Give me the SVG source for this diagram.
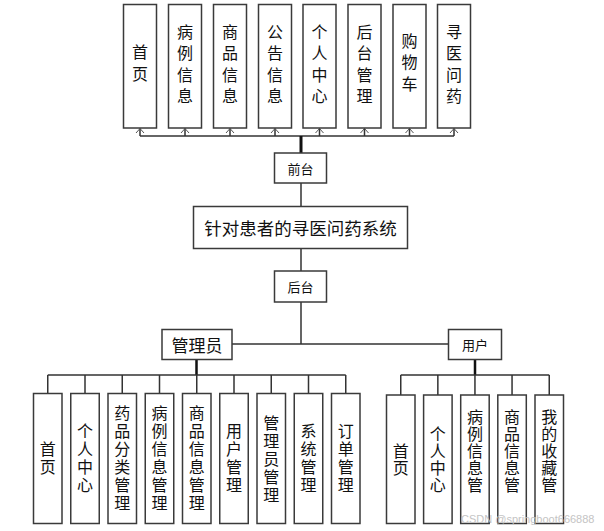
<svg xmlns="http://www.w3.org/2000/svg" width="604" height="531" viewBox="0 0 604 531">
<style>
.box{fill:#fff;stroke:#3a3a3a;stroke-width:1.5}
.ln{fill:none;stroke:#333;stroke-width:1.5}
.thick{fill:none;stroke:#111;stroke-width:3}
.ar{fill:none;stroke:#555;stroke-width:1}
text{font-family:"Noto Sans CJK SC","Noto Sans",sans-serif;fill:#111;text-anchor:middle;dominant-baseline:central}
.v{writing-mode:vertical-rl;text-orientation:upright;font-size:16px}
.vt{letter-spacing:5.5px}
.vb{letter-spacing:2px}
.vr{letter-spacing:1px}
.t13{font-size:13px}
.t18{font-size:17.5px}
.wm{font-family:"Liberation Sans",sans-serif;font-size:11px;fill:#c4c4c4;text-anchor:start;dominant-baseline:auto}
</style>
<rect width="604" height="531" fill="#fff"/>
<g id="connectors">
<path class="ln" d="M140,136H454"/>
<path class="ln" d="M140,136V128.5M185,136V128.5M230,136V128.5M275,136V128.5M319.5,136V128.5M364.5,136V128.5M409.5,136V128.5M454,136V128.5"/>
<path class="ar" d="M136,133L140,128.5L144,133M181,133L185,128.5L189,133M226,133L230,128.5L234,133M271,133L275,128.5L279,133M315.5,133L319.5,128.5L323.5,133M360.5,133L364.5,128.5L368.5,133M405.5,133L409.5,128.5L413.5,133M450,133L454,128.5L458,133"/>
<path class="thick" d="M301,136V153"/>
<path class="ln" d="M301,183V206.5M301,248.5V271M301,302V344M232,344H448.5"/>
<path class="thick" d="M196.5,360V375M475,359.5V375" style="stroke-width:2.5"/>
<path class="ln" d="M47.75,375H345.75M47.75,375V393.5M85,375V393.5M122.25,375V393.5M159.5,375V393.5M196.75,375V393.5M234,375V393.5M271.25,375V393.5M308.5,375V393.5M345.75,375V393.5"/>
<path class="ln" d="M400.75,375H549.25M400.75,375V395M437.85,375V395M474.95,375V395M512.05,375V395M549.25,375V395"/>
</g>
<g id="top-1"><rect class="box" x="123.5" y="4.5" width="33" height="123.5"/><text class="v vt" x="140" y="65.5">首页</text></g>
<g id="top-2"><rect class="box" x="168.5" y="4.5" width="33" height="123.5"/><text class="v vt" x="185" y="66.5">病例信息</text></g>
<g id="top-3"><rect class="box" x="213.5" y="4.5" width="33" height="123.5"/><text class="v vt" x="230" y="66.5">商品信息</text></g>
<g id="top-4"><rect class="box" x="258.5" y="4.5" width="33" height="123.5"/><text class="v vt" x="275" y="66.5">公告信息</text></g>
<g id="top-5"><rect class="box" x="303" y="4.5" width="33" height="123.5"/><text class="v vt" x="319.5" y="66.5">个人中心</text></g>
<g id="top-6"><rect class="box" x="348" y="4.5" width="33" height="123.5"/><text class="v vt" x="364.5" y="66.5">后台管理</text></g>
<g id="top-7"><rect class="box" x="393" y="4.5" width="33" height="123.5"/><text class="v vt" x="409.5" y="65">购物车</text></g>
<g id="top-8"><rect class="box" x="437.5" y="4.5" width="33" height="123.5"/><text class="v vt" x="454" y="66.5">寻医问药</text></g>
<g id="qiantai"><rect class="box" x="274.5" y="153" width="52" height="30"/><text class="t13" x="300.5" y="168">前台</text></g>
<g id="title"><rect class="box" x="193.5" y="206.5" width="214" height="42"/><text class="t18" x="300.5" y="227.5">针对患者的寻医问药系统</text></g>
<g id="houtai"><rect class="box" x="274.5" y="271" width="52" height="31"/><text class="t13" x="300.5" y="286.5">后台</text></g>
<g id="admin"><rect class="box" x="162" y="329.5" width="70" height="30"/><text x="197" y="344.5" style="font-size:17px">管理员</text></g>
<g id="user"><rect class="box" x="448.5" y="329.5" width="53" height="30"/><text class="t13" x="475" y="344.5">用户</text></g>
<g id="a1"><rect class="box" x="33.5" y="393.5" width="28.5" height="130"/><text class="v vb" x="47.75" y="458.5">首页</text></g>
<g id="a2"><rect class="box" x="70.75" y="393.5" width="28.5" height="130"/><text class="v vb" x="85" y="458.5">个人中心</text></g>
<g id="a3"><rect class="box" x="108" y="393.5" width="28.5" height="130"/><text class="v vb" x="122.25" y="458.5">药品分类管理</text></g>
<g id="a4"><rect class="box" x="145.25" y="393.5" width="28.5" height="130"/><text class="v vb" x="159.5" y="458.5">病例信息管理</text></g>
<g id="a5"><rect class="box" x="182.5" y="393.5" width="28.5" height="130"/><text class="v vb" x="196.75" y="458.5">商品信息管理</text></g>
<g id="a6"><rect class="box" x="219.75" y="393.5" width="28.5" height="130"/><text class="v vb" x="234" y="458.5">用户管理</text></g>
<g id="a7"><rect class="box" x="257" y="393.5" width="28.5" height="130"/><text class="v vb" x="271.25" y="459.5">管理员管理</text></g>
<g id="a8"><rect class="box" x="294.25" y="393.5" width="28.5" height="130"/><text class="v vb" x="308.5" y="458.5">系统管理</text></g>
<g id="a9"><rect class="box" x="331.5" y="393.5" width="28.5" height="130"/><text class="v vb" x="345.75" y="458.5">订单管理</text></g>
<g id="u1"><rect class="box" x="386.5" y="395" width="28.5" height="128.5"/><text class="v vr" x="400.75" y="459.5">首页</text></g>
<g id="u2"><rect class="box" x="423.6" y="395" width="28.5" height="128.5"/><text class="v vr" x="437.85" y="459.5">个人中心</text></g>
<g id="u3"><rect class="box" x="460.7" y="395" width="28.5" height="128.5"/><text class="v vr" x="474.95" y="451.5">病例信息管</text></g>
<g id="u4"><rect class="box" x="497.8" y="395" width="28.5" height="128.5"/><text class="v vr" x="512.05" y="451.5">商品信息管</text></g>
<g id="u5"><rect class="box" x="535" y="395" width="28.5" height="128.5"/><text class="v vr" x="549.25" y="451.5">我的收藏管</text></g>
<text class="wm" x="461" y="523">CSDN @springboot666888</text>
</svg>
